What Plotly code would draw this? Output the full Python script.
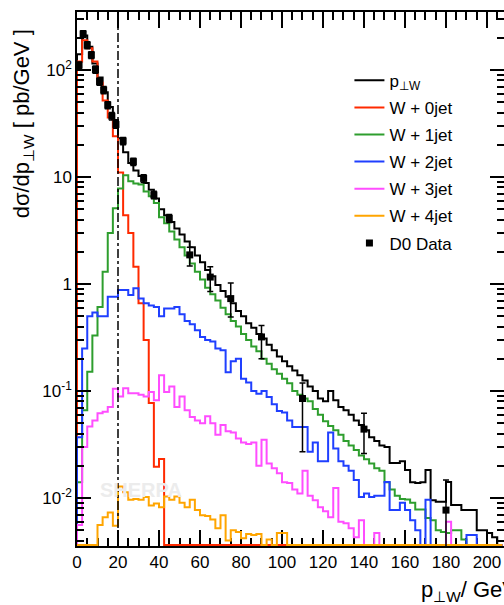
import plotly.graph_objects as go

# ---------------- data (2.5 GeV bins starting at 0) ----------------
BIN_WIDTH = 2.5

pt_total = [
    140, 210, 165, 115, 85, 62, 45, 34,
    23, 17, 13.5, 11.5, 10.2, 8.8, 7.6, 6.3,
    5.0, 4.4, 3.8, 3.3, 2.9, 2.5, 2.2, 1.85,
    1.6, 1.35, 1.18, 0.98, 0.86, 0.76, 0.66, 0.56,
    0.50, 0.43, 0.39, 0.34, 0.31, 0.27, 0.24, 0.21,
    0.19, 0.17, 0.155, 0.14, 0.125, 0.11, 0.10, 0.085,
    0.08, 0.10, 0.082, 0.071, 0.066, 0.06, 0.053, 0.048,
    0.043, 0.037, 0.034, 0.031, 0.030, 0.0212, 0.0212, 0.022,
    0.0183, 0.0140, 0.0138, 0.0140, 0.0183, 0.0095, 0.0092, 0.0092,
    0.0141, 0.0086, 0.0086, 0.0077, 0.0077, 0.0077, 0.0050, 0.0050,
    0.0047, 0.0043, 0,
]

w_0jet = [
    120, 190, 160, 120, 76, 52, 36, 24,
    11, 4.4, 3.0, 1.45, 0.66, 0.30, 0.077, 0.0196,
    0.0231, 0, 0, 0, 0, 0, 0, 0,
    0, 0, 0, 0, 0, 0, 0, 0,
    0, 0, 0, 0, 0, 0, 0, 0,
    0, 0, 0, 0, 0, 0, 0, 0,
    0, 0, 0, 0, 0, 0, 0, 0,
    0, 0, 0, 0, 0, 0, 0, 0,
    0, 0, 0, 0, 0, 0, 0, 0,
    0, 0, 0, 0, 0, 0, 0, 0,
    0, 0, 0,
]

w_1jet = [
    0.014, 0.066, 0.151, 0.33, 0.61, 1.30, 3.0, 5.1,
    7.8, 10.4, 9.1, 8.7, 8.5, 7.3, 6.6, 5.7,
    4.2, 3.7, 3.1, 2.6, 2.2, 1.85, 1.55, 1.3,
    1.1, 0.92, 0.8, 0.7, 0.6, 0.52, 0.45, 0.40,
    0.34, 0.30, 0.26, 0.235, 0.20, 0.18, 0.16, 0.145,
    0.13, 0.118, 0.10, 0.092, 0.085, 0.080, 0.068, 0.060,
    0.052, 0.047, 0.043, 0.039, 0.034, 0.031, 0.028, 0.025,
    0.023, 0.021, 0.019, 0.018, 0.014, 0.012, 0.0105, 0.0098,
    0.0097, 0.0090, 0.0078, 0.0078, 0.0065, 0.0062, 0.0050, 0.0048,
    0.0047, 0.0050, 0.0050, 0.0041, 0, 0, 0, 0,
    0, 0, 0,
]

w_2jet = [
    0.037, 0.25, 0.50, 0.54, 0.50, 0.50, 0.76, 0.76,
    0.88, 0.88, 0.79, 0.91, 0.73, 0.66, 0.63, 0.61,
    0.50, 0.59, 0.59, 0.61, 0.52, 0.45, 0.42, 0.37,
    0.32, 0.30, 0.29, 0.25, 0.24, 0.15, 0.19, 0.20,
    0.13, 0.12, 0.10, 0.094, 0.10, 0.088, 0.075, 0.065,
    0.063, 0.053, 0.046, 0.046, 0.046, 0.027, 0.033, 0.022,
    0.022, 0.041, 0.029, 0.022, 0.020, 0.018, 0.0147, 0.0102,
    0.011, 0.0102, 0.0105, 0.0105, 0.0141, 0.0077, 0.0077, 0.009,
    0.0077, 0.0062, 0.005, 0, 0.0096, 0, 0, 0,
    0, 0, 0, 0, 0.0045, 0.0045, 0, 0,
    0, 0, 0,
]

w_3jet = [
    0.0056, 0.030, 0.0465, 0.053, 0.062, 0.064, 0.071, 0.105,
    0.089, 0.106, 0.095, 0.095, 0.092, 0.089, 0.098, 0.082,
    0.14, 0.098, 0.11, 0.071, 0.089, 0.066, 0.057, 0.053,
    0.050, 0.058, 0.050, 0.039, 0.048, 0.042, 0.041, 0.036,
    0.033, 0.032, 0.033, 0.020, 0.035, 0.021, 0.019, 0.017,
    0.014, 0.0138, 0.012, 0.011, 0.018, 0.0105, 0.0095, 0.0082,
    0.0075, 0.0066, 0.0124, 0.006, 0.0058, 0.0052, 0.0043, 0.0062,
    0, 0, 0.0047, 0, 0, 0, 0, 0,
    0, 0, 0, 0, 0, 0, 0, 0,
    0.006, 0, 0, 0, 0, 0, 0, 0,
    0, 0, 0,
]

w_4jet = [
    0, 0, 0, 0, 0.0056, 0.0066, 0.0073, 0.0055,
    0.0128, 0.0113, 0.0096, 0.0098, 0.0096, 0.0102, 0.0085, 0.0089,
    0.0082, 0.0103, 0.0096, 0.0103, 0.0090, 0.0082, 0.0096, 0.0077,
    0.0069, 0.0068, 0.0063, 0.0052, 0.0069, 0.0040, 0.0050, 0.0048,
    0.0042, 0.0046, 0.0045, 0.0046, 0, 0.0041, 0, 0.0047,
    0.0047, 0, 0, 0, 0, 0, 0, 0,
    0, 0, 0, 0, 0, 0, 0, 0,
    0, 0, 0, 0, 0, 0, 0, 0,
    0, 0, 0, 0, 0, 0, 0, 0,
    0, 0, 0, 0, 0, 0, 0, 0,
    0, 0, 0,
]

d0_pt = [1, 3, 5, 7, 9, 11, 13, 15, 17, 19, 22.5, 27.5, 32.5, 37.5,
         45, 55, 65, 75, 90, 110, 140, 180]
d0_xsec = [111, 217, 171, 138, 101, 78, 65, 47, 37, 31, 21.7, 13.9, 9.7, 6.8,
           4.1, 1.87, 1.16, 0.73, 0.32, 0.085, 0.044, 0.0077]
d0_err_up = [8, 16, 13, 10, 8, 6, 5, 3.5, 3, 2.5, 1.7, 1.1, 0.8, 0.55,
             0.35, 0.33, 0.29, 0.29, 0.09, 0.034, 0.018, 0.007]
d0_err_dn = [8, 16, 13, 10, 8, 6, 5, 3.5, 3, 2.5, 1.7, 1.1, 0.8, 0.55,
             0.35, 0.40, 0.31, 0.24, 0.12, 0.058, 0.018, 0.0062]

series_names = ["p<sub>\u22a5W</sub>", "W + 0jet", "W + 1jet", "W + 2jet", "W + 3jet", "W + 4jet"]
series_values = [pt_total, w_0jet, w_1jet, w_2jet, w_3jet, w_4jet]
series_colors = ["#000000", "#ff2a00", "#2e9e2e", "#1f3fff", "#ff4dff", "#ffa500"]

y_tick_vals = [0.01, 0.1, 1, 10, 100]
y_tick_text = ["10<sup>-2</sup>", "10<sup>-1</sup>", "1", "10", "10<sup>2</sup>"]

JET_CUT = 20
Y_LOG_RANGE = [-2.449, 2.542]
X_RANGE = [0, 208.3]

FONT = "Liberation Sans, Arial, Helvetica, sans-serif"

# ---------------- figure ----------------
# empty bins are drawn along the lower frame, as ROOT does
floor = 10 ** (Y_LOG_RANGE[0] + 0.009)


def step_outline(vals):
    n = len(vals)
    edges = [i * BIN_WIDTH for i in range(n + 1)]
    ys = [v if v > 0 else floor for v in vals]
    xs = [edges[0]] + edges + [edges[-1]]
    yy = [floor] + ys + [ys[-1], floor]
    return xs, yy


fig = go.Figure()

for name, vals, col in zip(series_names, series_values, series_colors):
    xs, ys = step_outline(vals)
    fig.add_trace(go.Scatter(
        x=xs, y=ys, mode="lines", name=name, legendgroup=name,
        line=dict(color=col, width=2, shape="hv"),
        hoverinfo="skip",
    ))

fig.add_trace(go.Scatter(
    x=d0_pt, y=d0_xsec, mode="markers", name="D0 Data", legendgroup="d0",
    marker=dict(symbol="square", size=7, color="black"),
    error_y=dict(type="data", array=d0_err_up, arrayminus=d0_err_dn,
                 color="black", thickness=1.5, width=3),
))

# dummy trace to activate right-hand tick axis
fig.add_trace(go.Scatter(x=[], y=[], yaxis="y2", showlegend=False, hoverinfo="skip"))

fig.add_vline(x=JET_CUT, line=dict(color="black", width=1.5, dash="dashdot"))

minor_y = [k * 10 ** e for e in range(-3, 3) for k in range(2, 10)]

yaxis_common = dict(
    type="log", range=Y_LOG_RANGE, showgrid=False, zeroline=False,
    ticks="inside", ticklen=14, tickwidth=1.5, tickcolor="black",
    tickvals=y_tick_vals,
    minor=dict(tickvals=minor_y, ticks="inside", ticklen=7, tickwidth=1.5,
               tickcolor="black", showgrid=False),
)

fig.update_layout(
    width=504, height=605,
    margin=dict(l=77, r=0, t=12, b=59),
    paper_bgcolor="white", plot_bgcolor="white",
    font=dict(family=FONT, size=17, color="black"),
    showlegend=True,
    legend=dict(x=0.638, y=0.905, xanchor="left", yanchor="top",
                bgcolor="rgba(0,0,0,0)", font=dict(size=17, family=FONT),
                tracegroupgap=2, itemwidth=30),
    xaxis=dict(
        range=X_RANGE, showline=True, linecolor="black", linewidth=1.5,
        mirror="ticks", ticks="inside", ticklen=16, tickwidth=1.5,
        tickcolor="black", tick0=0, dtick=20, showgrid=False, zeroline=False,
        tickfont=dict(size=17, family=FONT), layer="below traces",
        minor=dict(dtick=5, ticks="inside", ticklen=8, tickwidth=1.5,
                   tickcolor="black", showgrid=False),
    ),
    yaxis=dict(showline=True, linecolor="black", linewidth=1.5,
               ticktext=y_tick_text, tickfont=dict(size=17, family=FONT),
               **yaxis_common),
    yaxis2=dict(overlaying="y", side="right", anchor="x", showline=False,
                showticklabels=False, **yaxis_common),
)

fig.add_annotation(
    text="d\u03c3/dp<sub>\u22a5W</sub> [ pb/GeV ]", textangle=-90,
    xref="paper", yref="paper", x=-0.126, y=0.79,
    xanchor="center", yanchor="middle", showarrow=False,
    font=dict(size=22, family=FONT, color="black"),
)
fig.add_annotation(
    text="p<sub>\u22a5W</sub>/ GeV",
    xref="paper", yref="paper", x=0.80, y=-0.085,
    xanchor="left", yanchor="middle", showarrow=False,
    font=dict(size=22, family=FONT, color="black"),
)
fig.add_annotation(
    text="<b>SHERPA</b>",
    xref="paper", yref="paper", x=0.15, y=0.105,
    xanchor="center", yanchor="middle", showarrow=False,
    font=dict(size=20, family=FONT, color="#ececec"),
)

fig.write_html("out.html")
